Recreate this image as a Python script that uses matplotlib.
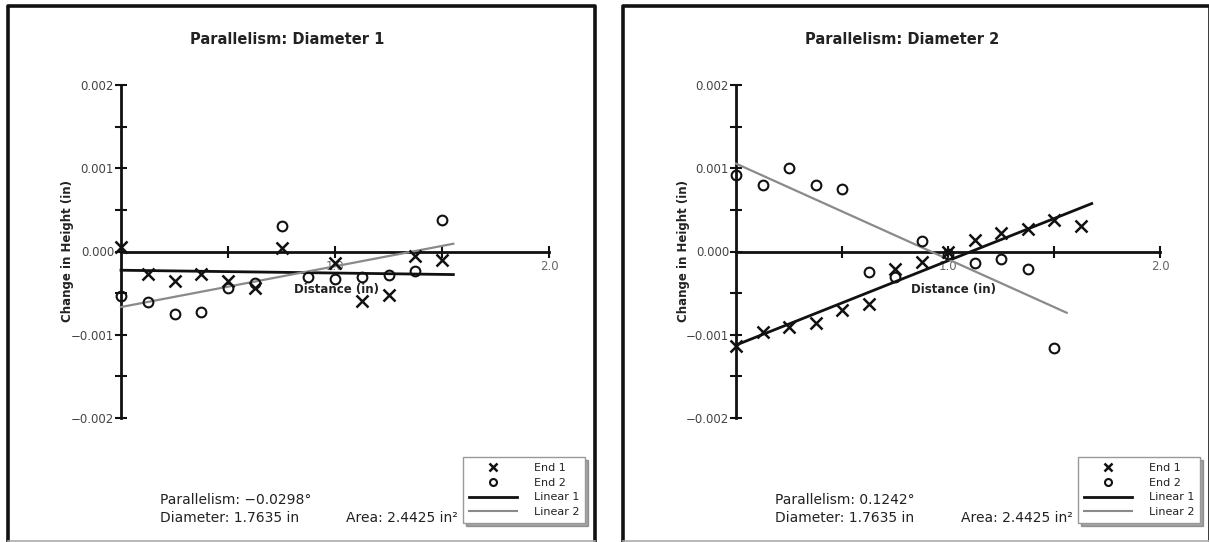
import matplotlib
matplotlib.use("Agg")
import matplotlib.pyplot as plt
from matplotlib.lines import Line2D

plt.rcParams['font.family'] = ['DejaVu Sans']

W, H = 1209, 542

# ---------------- data ----------------
titles = ["Parallelism: Diameter 1", "Parallelism: Diameter 2"]

left_end1_x = [0, 0.125, 0.25, 0.375, 0.5, 0.625, 0.75, 1.0, 1.125, 1.25, 1.375, 1.5]
left_end1_y = [0.00005, -0.000265, -0.00035, -0.000265, -0.00036, -0.00044, 0.00004,
               -0.000137, -0.00059, -0.00052, -0.000056, -0.0001]
left_end2_x = [0, 0.125, 0.25, 0.375, 0.5, 0.625, 0.75, 0.875, 1.0, 1.125, 1.25, 1.375, 1.5]
left_end2_y = [-0.00054, -0.00061, -0.00075, -0.00073, -0.00044, -0.00038, 0.000305,
               -0.00031, -0.000325, -0.000305, -0.00028, -0.000237, 0.000377]
left_lin1_x = [0, 1.553]
left_lin1_y = [-0.000225, -0.000277]
left_lin2_x = [0, 1.553]
left_lin2_y = [-0.000667, 0.000093]

right_end1_x = [0, 0.125, 0.25, 0.375, 0.5, 0.625, 0.75, 0.875, 1.0, 1.125, 1.25, 1.375, 1.5, 1.625]
right_end1_y = [-0.00114, -0.000965, -0.00091, -0.000857, -0.000705, -0.00063, -0.000216,
                -0.000128, -0.00001, 0.000144, 0.000224, 0.000276, 0.000376, 0.000304]
right_end2_x = [0, 0.125, 0.25, 0.375, 0.5, 0.625, 0.75, 0.875, 1.0, 1.125, 1.25, 1.375, 1.5]
right_end2_y = [0.000924, 0.000804, 0.001005, 0.000804, 0.000756, -0.000244, -0.000304,
                0.000124, -0.000036, -0.000136, -0.000096, -0.000216, -0.001164]
right_lin1_x = [0, 1.678]
right_lin1_y = [-0.001124, 0.000576]
right_lin2_x = [0, 1.56]
right_lin2_y = [0.001056, -0.000736]

y_major = [-0.002, -0.001, 0.0, 0.001, 0.002]
y_major_labels = ["\u22120.002", "\u22120.001", "0.000", "0.001", "0.002"]
y_minor = [-0.0015, -0.0005, 0.0005, 0.0015]
x_ticks = [0.5, 1.0, 1.5, 2.0]
x_tick_labels = ["", "1.0", "", "2.0"]

parallelism_texts = ["Parallelism: \u22120.0298\u00b0", "Parallelism: 0.1242\u00b0"]
diameter_text = "Diameter: 1.7635 in"
area_text = "Area: 2.4425 in\u00b2"
legend_labels = ["End 1", "End 2", "Linear 1", "Linear 2"]

# ---------------- figure ----------------
fig = plt.figure(figsize=(W / 100, H / 100), dpi=100)

def px(x, y):
    return x / W, 1 - y / H

panels = [
    dict(off=0, x0=121, x1=549, data=(left_end1_x, left_end1_y, left_end2_x, left_end2_y,
                                      left_lin1_x, left_lin1_y, left_lin2_x, left_lin2_y)),
    dict(off=615, x0=736, x1=1160, data=(right_end1_x, right_end1_y, right_end2_x, right_end2_y,
                                         right_lin1_x, right_lin1_y, right_lin2_x, right_lin2_y)),
]
y_top, y_bot = 85, 418
text_col = "#222222"
tick_col = "#444444"
gray = "#8a8a8a"

for i, p in enumerate(panels):
    off = p['off']
    # panel frame
    fig.add_artist(Line2D([(8 + off) / W, (8 + off) / W, (595 + off) / W, (595 + off) / W],
                          [1 - 541 / H, 1 - 6 / H, 1 - 6 / H, 1 - 541 / H],
                          transform=fig.transFigure, color="#111111", lw=2.6))
    fig.add_artist(Line2D([(8 + off) / W, (595 + off) / W], [1 - 541 / H, 1 - 541 / H],
                          transform=fig.transFigure, color="#aaaaaa", lw=1.2))

    ax = fig.add_axes([p['x0'] / W, 1 - y_bot / H, (p['x1'] - p['x0']) / W, (y_bot - y_top) / H])
    ax.set_xlim(0, 2.0)
    ax.set_ylim(-0.002, 0.002)
    ax.patch.set_alpha(0)
    for s in ['top', 'right']:
        ax.spines[s].set_visible(False)
    ax.spines['left'].set_position(('data', 0))
    ax.spines['bottom'].set_position(('data', 0))
    ax.spines['left'].set_linewidth(2)
    ax.spines['bottom'].set_linewidth(2)
    ax.spines['left'].set_color("#111111")
    ax.spines['bottom'].set_color("#111111")

    ax.set_yticks(y_major)
    ax.set_yticklabels(y_major_labels)
    ax.set_yticks(y_minor, minor=True)
    ax.set_xticks(x_ticks)
    ax.set_xticklabels(x_tick_labels)
    ax.tick_params(axis='both', which='both', direction='inout', length=8, width=1.5,
                   color="#111111")
    ax.tick_params(axis='y', labelsize=8.5, labelcolor=tick_col, pad=1)
    ax.tick_params(axis='x', labelsize=8.5, labelcolor="#666666", pad=2)

    e1x, e1y, e2x, e2y, l1x, l1y, l2x, l2y = p['data']
    ax.plot(l1x, l1y, color="#111111", lw=2, zorder=3, clip_on=False)
    ax.plot(l2x, l2y, color=gray, lw=1.6, zorder=3, clip_on=False)
    ax.plot(e1x, e1y, ls='none', marker='x', ms=8, mew=1.8, color="#111111", zorder=4, clip_on=False)
    ax.plot(e2x, e2y, ls='none', marker='o', ms=7, mew=1.5, mfc='none', mec="#111111",
            zorder=4, clip_on=False)

    # title
    fig.text(*px(287 + off, 40), titles[i], ha='center', va='center', fontsize=10.5,
             fontweight='bold', color=text_col)
    # y label
    fig.text(*px(68 + off, 251), "Change in Height (in)", rotation=90, ha='center', va='center',
             fontsize=8.5, fontweight='bold', color=text_col)
    # x label
    fig.text(*px(337 + off * 1.0025, 290), "Distance (in)", ha='center', va='center',
             fontsize=8.5, fontweight='bold', color=text_col)

    # info texts
    fig.text(*px(160 + off, 500), parallelism_texts[i], ha='left', va='center', fontsize=10,
             color=text_col)
    fig.text(*px(160 + off, 518), diameter_text, ha='left', va='center', fontsize=10,
             color=text_col)
    fig.text(*px(458 + off, 518), area_text, ha='right', va='center', fontsize=10,
             color=text_col)

    handles = [Line2D([], [], ls='none', marker='x', ms=6, mew=1.8, color="#111111"),
               Line2D([], [], ls='none', marker='o', ms=5, mew=1.5, mfc='none', mec="#111111"),
               Line2D([], [], color="#111111", lw=2),
               Line2D([], [], color=gray, lw=1.5)]
    leg = ax.legend(handles, legend_labels, loc='upper left',
                    bbox_to_anchor=px(463 + off, 457), bbox_transform=fig.transFigure,
                    fontsize=8, frameon=True, fancybox=False, shadow=True,
                    handlelength=4.3, handletextpad=1.5, labelspacing=0.42,
                    borderpad=0.55, borderaxespad=0, numpoints=1)
    leg.get_frame().set_edgecolor("#999999")
    leg.get_frame().set_linewidth(1.0)
    for t in leg.get_texts():
        t.set_color(text_col)

fig.savefig("out.png", dpi=100)
